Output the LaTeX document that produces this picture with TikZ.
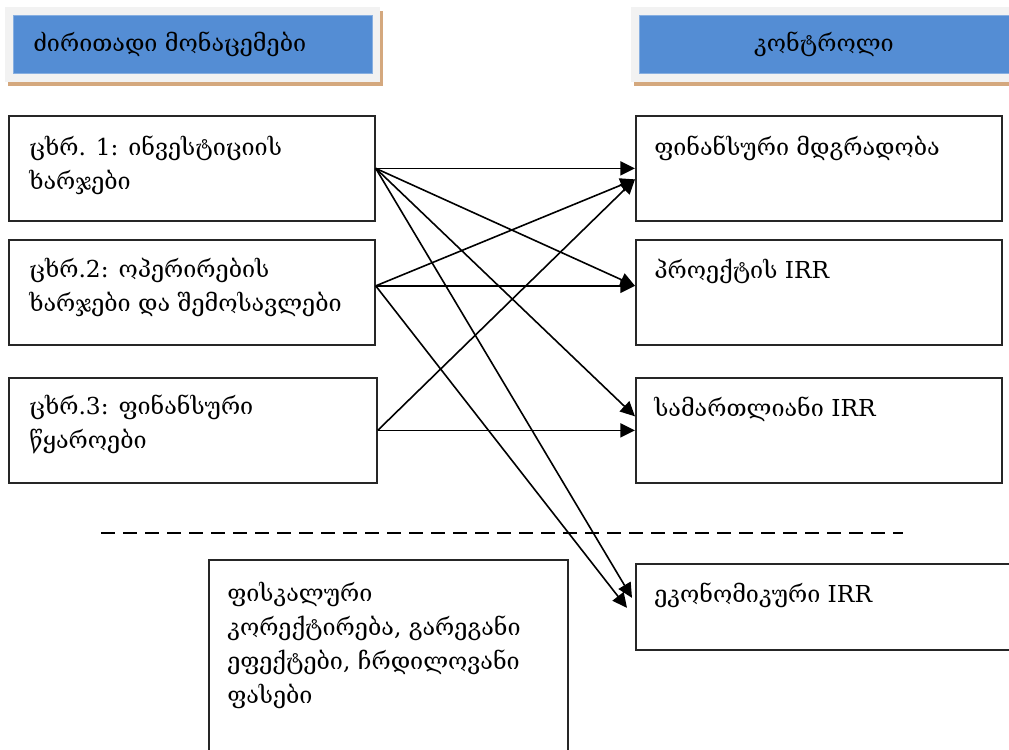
\documentclass[tikz,border=0pt]{standalone}
\usepackage{fontspec}
\setmainfont{DejaVu Serif}
\usetikzlibrary{arrows.meta,positioning,calc,shadows}
\definecolor{hdrblue}{RGB}{84,141,212}
\definecolor{hdrgray}{RGB}{242,242,242}
\definecolor{hdrshadow}{RGB}{212,168,126}

\begin{document}
\begin{tikzpicture}[x=0.75pt,y=-0.75pt,font=\fontsize{17.5}{25.5}\selectfont,>={Triangle[length=11pt,width=10.5pt]},
  panel/.style={fill=hdrgray,anchor=north west,inner sep=0pt,minimum height=56.25pt,
    drop shadow={shadow xshift=2.25pt,shadow yshift=-3pt,fill=hdrshadow,opacity=1}},
  hdr/.style={fill=hdrblue,draw=hdrblue!70!white,line width=0.75pt,anchor=north west,inner sep=0pt,minimum height=43.5pt},
  box/.style={draw=black!85,line width=1.3pt,anchor=north west,inner sep=0pt,minimum width=274.5pt,minimum height=78.75pt},
  txt/.style={anchor=base west,inner sep=0pt,align=left},
  link/.style={->,line width=1.2pt}]
\useasboundingbox (0,0) rectangle (1009,749);

% headers
\node[panel,minimum width=281.25pt] (panelL) at (5,7) {};
\node[hdr,minimum width=269.25pt] (hdrL) at (13,15) {};
\node[txt] (hdrLtxt) at (33,52) {ძირითადი მონაცემები};
\node[panel,minimum width=300pt] (panelR) at (631,7) {};
\node[hdr,minimum width=300pt] (hdrR) at (639,15) {};
\node[anchor=base,inner sep=0pt] (hdrRtxt) at (824,52) {კონტროლი};

% input tables (base = last line)
\node[box] (b1) at (8,115) {};
\node[box] (b2) at (8,239) {};
\node[box,minimum width=276pt] (b3) at (8,377) {};
\node[txt] (b1txt) at (29,189) {ცხრ. 1: ინვესტიციის\\ხარჯები};
\node[txt] (b2txt) at (29,311) {ცხრ.2: ოპერირების\\ხარჯები და შემოსავლები};
\node[txt] (b3txt) at (29,448) {ცხრ.3: ფინანსური\\წყაროები};

% checks
\node[box] (fA) at (635,115) {};
\node[box] (fB) at (635,239) {};
\node[box] (fC) at (635,377) {};
\node[box,minimum width=300pt,minimum height=64.5pt] (fD) at (635,563) {};
\node[txt] (fAtxt) at (654,155) {ფინანსური მდგრადობა};
\node[txt] (fBtxt) at (654,278) {პროექტის IRR};
\node[txt] (fCtxt) at (654,416) {სამართლიანი IRR};
\node[txt] (fDtxt) at (654,602) {ეკონომიკური IRR};

% fiscal corrections
\node[box,minimum width=269.25pt,minimum height=165pt] (fisc) at (208,559) {};
\node[txt] (fisctxt) at (227,703) {ფისკალური\\კორექტირება, გარეგანი\\ეფექტები, ჩრდილოვანი\\ფასები};

\coordinate (sepL) at (101,533);
\coordinate (sepR) at (903,533);
\draw[line width=1.1pt,dash pattern=on 10.5pt off 6pt] (sepL) -- (sepR);

% arrows
\coordinate (b2out) at ($(b2.east)+(0,-6.5)$);
\coordinate (fAlow) at ($(fA.west)+(0,11)$);
\coordinate (fBin) at ($(fB.west)+(0,-6.5)$);
\draw[link] (b1.east) -- (fA.west);
\draw[link] (b1.east) -- (fBin);
\draw[link] (b1.east) -- ($(fC.west)+(0,-14)$);
\draw[link] (b1.east) -- ($(fD.west)+(-3,-9)$);
\draw[link] (b2out) -- (fAlow);
\draw[link] (b2out) -- (fBin);
\draw[link] (b2out) -- ($(fD.west)+(-8,1)$);
\draw[link] (b3.east) -- (fAlow);
\draw[link] (b3.east) -- (fC.west);
\end{tikzpicture}
\end{document}
